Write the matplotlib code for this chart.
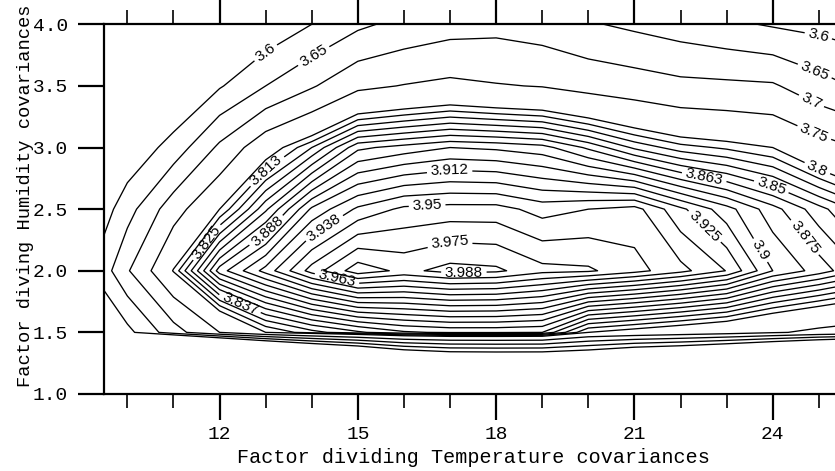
import numpy as np
import matplotlib
matplotlib.use("Agg")
import matplotlib.pyplot as plt
from matplotlib.ticker import MultipleLocator, FormatStrFormatter

plt.rcParams['font.family'] = ['Liberation Sans', 'DejaVu Sans']

# Factor dividing the temperature covariances (columns of the score grid)
temp_factor = [9.5, 10, 11, 12, 13, 14, 15, 16, 17, 18, 19, 20, 21, 22, 23, 24, 25, 26]
# Factor dividing the humidity covariances (rows of the score grid)
hum_factor = [1.0, 1.5, 2.0, 2.5, 3.0, 3.5, 4.0]

# Score for each (humidity, temperature) factor pair, one list per humidity row
score_h10 = [1.50, 1.60, 1.70, 2.05, 2.33, 2.60, 2.77, 2.97, 3.05, 3.06, 3.06, 3.10, 3.00, 2.95, 2.85, 2.72, 2.57, 2.40]
score_h15 = [3.54, 3.585, 3.68, 3.75, 3.80, 3.82, 3.835, 3.848, 3.852, 3.852, 3.85, 3.80, 3.79, 3.78, 3.77, 3.755, 3.74, 3.73]
score_h20 = [3.629, 3.695, 3.802, 3.894, 3.93, 3.968, 3.995, 3.984, 3.992, 3.99, 3.979, 3.977, 3.967, 3.954, 3.937, 3.90, 3.882, 3.86]
score_h25 = [3.58, 3.63, 3.73, 3.80, 3.86, 3.915, 3.94, 3.953, 3.955, 3.955, 3.945, 3.95, 3.955, 3.928, 3.905, 3.88, 3.855, 3.83]
score_h30 = [3.50, 3.56, 3.62, 3.71, 3.785, 3.825, 3.872, 3.88, 3.8875, 3.885, 3.88, 3.86, 3.835, 3.818, 3.81, 3.80, 3.77, 3.745]
score_h35 = [3.41, 3.47, 3.54, 3.595, 3.65, 3.695, 3.74, 3.752, 3.761, 3.753, 3.748, 3.735, 3.725, 3.713, 3.71, 3.706, 3.669, 3.64]
score_h40 = [3.30, 3.35, 3.42, 3.50, 3.56, 3.60, 3.64, 3.665, 3.68, 3.685, 3.675, 3.655, 3.64, 3.625, 3.61, 3.595, 3.585, 3.575]

# Contour levels and the text written on each of them
levels = [3.6, 3.65, 3.7, 3.75, 3.8, 3.8125, 3.825, 3.8375, 3.85, 3.8625,
          3.875, 3.8875, 3.9, 3.9125, 3.925, 3.9375, 3.95, 3.9625, 3.975, 3.9875]
level_text = ["3.6", "3.65", "3.7", "3.75", "3.8", "3.813", "3.825", "3.837", "3.85", "3.863",
              "3.875", "3.888", "3.9", "3.912", "3.925", "3.938", "3.95", "3.963", "3.975", "3.988"]

# Where each level carries its label
label_spots = [
    [(13.0, 3.77), (24.96, 3.85)],
    [(14.03, 3.75), (24.9, 3.61)],
    [(24.8, 3.35)],
    [(24.9, 3.12)],
    [(24.95, 2.82)],
    [(13.0, 2.82)],
    [(11.65, 2.25)],
    [(12.5, 1.78)],
    [(24.0, 2.72)],
    [(22.53, 2.79)],
    [(24.8, 2.3)],
    [(13.0, 2.33)],
    [(23.8, 2.18)],
    [(17.0, 2.78)],
    [(22.5, 2.35)],
    [(14.3, 2.33)],
    [(16.5, 2.55)],
    [(14.55, 1.94)],
    [(17.0, 2.22)],
    [(17.3, 1.98)],
]

Z = np.array([score_h10, score_h15, score_h20, score_h25, score_h30, score_h35, score_h40])
X, Y = np.meshgrid(temp_factor, hum_factor)

W, H = 835, 471
fig = plt.figure(figsize=(W / 100, H / 100), dpi=100)
left_px, right_px, top_px, bottom_px = 104.3, 841.9, 24.3, 394.0
ax = fig.add_axes([left_px / W, 1 - bottom_px / H,
                   (right_px - left_px) / W, (bottom_px - top_px) / H])

# One contour set per level so each label lands on its own line
for lev, txt, spots in zip(levels, level_text, label_spots):
    cs = ax.contour(X, Y, Z, levels=[lev], colors='black', linewidths=0.95)
    cs.clabel(manual=spots, fmt={lev: txt}, inline=True,
              inline_spacing=3, fontsize=11)

ax.set_xlim(9.5, 25.5)
ax.set_ylim(1.0, 4.0)

ax.xaxis.set_major_locator(MultipleLocator(3))
ax.xaxis.set_minor_locator(MultipleLocator(1))
ax.xaxis.set_major_formatter(FormatStrFormatter('%d'))
ax.yaxis.set_major_locator(MultipleLocator(0.5))
ax.yaxis.set_major_formatter(FormatStrFormatter('%.1f'))

mono = 'Liberation Mono'
ax.tick_params(axis='both', which='both', direction='out', labelsize=14,
               labelfontfamily=mono)
ax.tick_params(axis='x', which='both', top=True)
ax.tick_params(which='major', length=19, width=1.6)
ax.tick_params(which='minor', length=10, width=1.2)
ax.tick_params(axis='x', which='major', pad=4)
ax.tick_params(axis='y', which='major', pad=7)
for s in ax.spines.values():
    s.set_linewidth(1.6)

ax.set_xlabel('Factor dividing Temperature covariances', fontsize=14.5, family=mono)
ax.set_ylabel('Factor diving Humidity covariances', fontsize=13.5, family=mono)
ax.xaxis.set_label_coords(0.5, -0.145)
ax.yaxis.set_label_coords(-0.0953, 0.537)

fig.savefig('out.png', dpi=100)
